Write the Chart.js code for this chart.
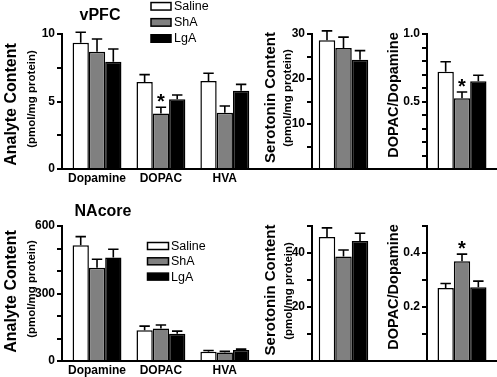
<!DOCTYPE html>
<html>
<head>
<meta charset="utf-8">
<script src="https://cdn.jsdelivr.net/npm/chart.js@4"></script>
<style>
  html, body { margin: 0; padding: 0; background: #fff; overflow: hidden; }
  #wrap { position: relative; width: 497px; height: 377px; }
  canvas { position: absolute; }
</style>
</head>
<body>
<div id="wrap">
  <canvas id="vpfcAnalytes" width="256" height="190" style="left:0;top:0"></canvas>
  <canvas id="vpfcSerotonin" width="126" height="190" style="left:256px;top:0"></canvas>
  <canvas id="vpfcRatio" width="115" height="190" style="left:382px;top:0"></canvas>
  <canvas id="nacAnalytes" width="256" height="187" style="left:0;top:190px"></canvas>
  <canvas id="nacSerotonin" width="126" height="187" style="left:256px;top:190px"></canvas>
  <canvas id="nacRatio" width="115" height="187" style="left:382px;top:190px"></canvas>
</div>
<script>
/* ---------- data ---------- */
const groups = ['Saline', 'ShA', 'LgA'];
const analytes = ['Dopamine', 'DOPAC', 'HVA'];

// rows: Saline, ShA, LgA ; columns: Dopamine, DOPAC, HVA
const vpfcAnalyteMean = [[9.36, 6.44, 6.52], [8.69, 4.12, 4.17], [7.95, 5.16, 5.80]];
const vpfcAnalyteErr  = [[0.77, 0.55, 0.57], [0.94, 0.45, 0.50], [0.94, 0.32, 0.47]];
const vpfcSerotoninMean = [28.6, 26.9, 24.3];
const vpfcSerotoninErr  = [2.1, 2.4, 2.0];
const vpfcRatioMean = [0.72, 0.525, 0.65];
const vpfcRatioErr  = [0.075, 0.045, 0.045];

const nacAnalyteMean = [[514, 137, 41], [415, 145, 38], [460, 121, 49]];
const nacAnalyteErr  = [[39, 18, 6], [37, 15, 5], [37, 12, 4]];
const nacSerotoninMean = [45.9, 38.7, 44.4];
const nacSerotoninErr  = [3.4, 2.4, 2.9];
const nacRatioMean = [0.27, 0.369, 0.273];
const nacRatioErr  = [0.017, 0.027, 0.023];

// significance marks: [group, category]
const vpfcAnalyteStars = [[1, 1]];
const vpfcRatioStars = [[1, 0]];
const nacRatioStars = [[1, 0]];

// y tick labels shown
const vpfcAnalyteTicks = ['0', '5', '10'];
const vpfcSerotoninTicks = ['10', '20', '30'];
const vpfcRatioTicks = ['0.5', '1.0'];
const nacAnalyteTicks = ['0', '300', '600'];
const nacSerotoninTicks = ['20', '40'];
const nacRatioTicks = ['0.2', '0.4'];

/* ---------- helpers ---------- */
const FONT = '"Liberation Sans", Arial, Helvetica, sans-serif';
const fills = ['#ffffff', '#808080', '#000000'];

const panelDeco = {
  id: 'panelDeco',
  afterDatasetsDraw(chart, args, o) {
    const ctx = chart.ctx;
    const ys = chart.scales.y;
    ctx.save();
    ctx.strokeStyle = '#000';
    ctx.lineWidth = 1.6;
    chart.data.datasets.forEach((ds, i) => {
      chart.getDatasetMeta(i).data.forEach((bar, j) => {
        const top = ys.getPixelForValue(ds.means[j] + ds.errs[j]);
        const half = bar.width * 0.32;
        ctx.beginPath();
        ctx.moveTo(bar.x, bar.y);
        ctx.lineTo(bar.x, top);
        ctx.moveTo(bar.x - half, top);
        ctx.lineTo(bar.x + half, top);
        ctx.stroke();
      });
    });
    ctx.fillStyle = '#000';
    ctx.font = 'bold 20px ' + FONT;
    ctx.textAlign = 'center';
    ctx.textBaseline = 'alphabetic';
    (o.stars || []).forEach(([g, c]) => {
      const ds = chart.data.datasets[g];
      const bar = chart.getDatasetMeta(g).data[c];
      const top = ys.getPixelForValue(ds.means[c] + ds.errs[c]);
      ctx.fillText('*', bar.x, top + 1);
    });
    ctx.restore();
  },
  afterDraw(chart, args, o) {
    const ctx = chart.ctx, area = chart.chartArea;
    ctx.save();
    // continuous baseline
    ctx.strokeStyle = '#000';
    ctx.lineWidth = 2;
    ctx.beginPath();
    ctx.moveTo(o.baseFromAxis ? area.left - 1 : 0, area.bottom);
    ctx.lineTo(chart.width, area.bottom);
    ctx.stroke();

    ctx.fillStyle = '#000';
    if (o.title) {
      ctx.font = 'bold 16px ' + FONT;
      ctx.textAlign = 'center';
      ctx.textBaseline = 'middle';
      ctx.fillText(o.title.text, o.title.x, o.title.y);
    }
    // rotated y titles
    const yt = o.yTitle;
    if (yt) {
      ctx.textAlign = 'center';
      ctx.textBaseline = 'alphabetic';
      ctx.save();
      ctx.translate(yt.mainX, yt.mainY);
      ctx.rotate(-Math.PI / 2);
      ctx.font = 'bold ' + yt.mainSize + 'px ' + FONT;
      ctx.fillText(yt.main, 0, 0);
      ctx.restore();
      if (yt.sub) {
        ctx.save();
        ctx.translate(yt.subX, yt.subY);
        ctx.rotate(-Math.PI / 2);
        ctx.font = 'bold 11.5px ' + FONT;
        ctx.fillText(yt.sub, 0, 0);
        ctx.restore();
      }
    }
    // legend
    const lg = o.legend;
    if (lg) {
      ctx.font = '12.5px ' + FONT;
      ctx.textAlign = 'left';
      ctx.textBaseline = 'middle';
      ctx.lineWidth = 1.5;
      groups.forEach((g, i) => {
        const cy = lg.y + i * lg.gap;
        ctx.fillStyle = fills[i];
        ctx.fillRect(lg.x, cy - lg.h / 2, lg.w, lg.h);
        ctx.strokeRect(lg.x, cy - lg.h / 2, lg.w, lg.h);
        ctx.fillStyle = '#000';
        ctx.fillText(g, lg.textX, cy + 0.5);
      });
    }
    ctx.restore();
  }
};

function yAxis(max, step, labels, width) {
  return {
    min: 0, max: max,
    ticks: {
      stepSize: step, autoSkip: false, padding: 2, color: '#000',
      font: { family: FONT, size: 12, weight: 'bold' },
      callback: v => labels.find(l => Math.abs(parseFloat(l) - v) < 1e-6) || ''
    },
    grid: { drawOnChartArea: false, drawTicks: true, tickLength: 5, lineWidth: 2, color: '#000' },
    border: { display: true, width: 2, color: '#000' },
    afterFit: s => { s.width = width; }
  };
}

function makeDatasets(means, errs, multi, linear) {
  return groups.map((g, i) => {
    const m = multi ? means[i] : [means[i]];
    const e = multi ? errs[i] : [errs[i]];
    return {
      label: g,
      data: linear ? m.map((v, k) => ({ x: k, y: v })) : m,
      means: m, errs: e,
      backgroundColor: fills[i],
      borderColor: '#000',
      borderWidth: 1.5
    };
  });
}

function analyteChart(id, means, errs, max, step, labels, xHeight, padTop, deco) {
  return new Chart(document.getElementById(id), {
    type: 'bar',
    data: { datasets: makeDatasets(means, errs, true, true) },
    options: {
      responsive: false, animation: false, events: [],
      layout: { padding: { top: padTop, left: 0, right: 0, bottom: 0 } },
      datasets: { bar: { categoryPercentage: 0.765, barPercentage: 1 } },
      scales: {
        x: {
          type: 'linear', min: -0.548, max: 2.488, offset: false,
          ticks: {
            stepSize: 1, includeBounds: false, autoSkip: false, maxRotation: 0,
            padding: 2, color: '#000',
            font: { family: FONT, size: 12, weight: 'bold' },
            callback: v => analytes[v] || ''
          },
          grid: { display: false, drawTicks: false },
          border: { display: false },
          afterFit: s => { s.height = xHeight; }
        },
        y: yAxis(max, step, labels, 62)
      },
      plugins: { legend: { display: false }, tooltip: { enabled: false }, panelDeco: deco }
    },
    plugins: [panelDeco]
  });
}

function singleChart(id, means, errs, max, step, labels, yWidth, padRight, padTop, padBottom, catPct, deco) {
  return new Chart(document.getElementById(id), {
    type: 'bar',
    data: { labels: [''], datasets: makeDatasets(means, errs, false, false) },
    options: {
      responsive: false, animation: false, events: [],
      layout: { padding: { top: padTop, left: 0, right: padRight, bottom: padBottom } },
      datasets: { bar: { categoryPercentage: catPct, barPercentage: 1 } },
      scales: {
        x: { display: false },
        y: yAxis(max, step, labels, yWidth)
      },
      plugins: { legend: { display: false }, tooltip: { enabled: false }, panelDeco: deco }
    },
    plugins: [panelDeco]
  });
}

/* ---------- top row: vPFC ---------- */
analyteChart('vpfcAnalytes', vpfcAnalyteMean, vpfcAnalyteErr, 10, 2.5, vpfcAnalyteTicks, 21, 34, {
  baseFromAxis: true,
  stars: vpfcAnalyteStars,
  title: { text: 'vPFC', x: 100, y: 15.5 },
  yTitle: { main: 'Analyte Content', mainSize: 16, mainX: 15.5, mainY: 104.5,
            sub: '(pmol/mg protein)', subX: 35, subY: 99 },
  legend: { x: 151, y: 6.3, gap: 16.1, w: 20, h: 7.5, textX: 174 }
});
singleChart('vpfcSerotonin', vpfcSerotoninMean, vpfcSerotoninErr, 30, 5, vpfcSerotoninTicks,
  56, 7, 34, 21, 0.786, {
  yTitle: { main: 'Serotonin Content', mainSize: 15, mainX: 18.5, mainY: 97.5,
            sub: '(pmol/mg protein)', subX: 35, subY: 98 }
});
singleChart('vpfcRatio', vpfcRatioMean, vpfcRatioErr, 1, 0.1, vpfcRatioTicks,
  45, 0, 34, 21, 0.7, {
  stars: vpfcRatioStars,
  yTitle: { main: 'DOPAC/Dopamine', mainSize: 14.5, mainX: 16.4, mainY: 95 }
});

/* ---------- bottom row: NAcore ---------- */
analyteChart('nacAnalytes', nacAnalyteMean, nacAnalyteErr, 600, 100, nacAnalyteTicks, 16, 36, {
  baseFromAxis: true,
  title: { text: 'NAcore', x: 103, y: 21.7 },
  yTitle: { main: 'Analyte Content', mainSize: 16, mainX: 15.5, mainY: 101.5,
            sub: '(pmol/mg protein)', subX: 35, subY: 99 },
  legend: { x: 147.5, y: 56, gap: 15.3, w: 21, h: 7, textX: 171 }
});
singleChart('nacSerotonin', nacSerotoninMean, nacSerotoninErr, 50, 10, nacSerotoninTicks,
  56, 7, 36, 16, 0.786, {
  yTitle: { main: 'Serotonin Content', mainSize: 15, mainX: 18.5, mainY: 100,
            sub: '(pmol/mg protein)', subX: 36, subY: 101 }
});
singleChart('nacRatio', nacRatioMean, nacRatioErr, 0.5, 0.1, nacRatioTicks,
  45, 0, 36, 16, 0.7, {
  stars: nacRatioStars,
  yTitle: { main: 'DOPAC/Dopamine', mainSize: 14.5, mainX: 16.4, mainY: 97 }
});
</script>
</body>
</html>
